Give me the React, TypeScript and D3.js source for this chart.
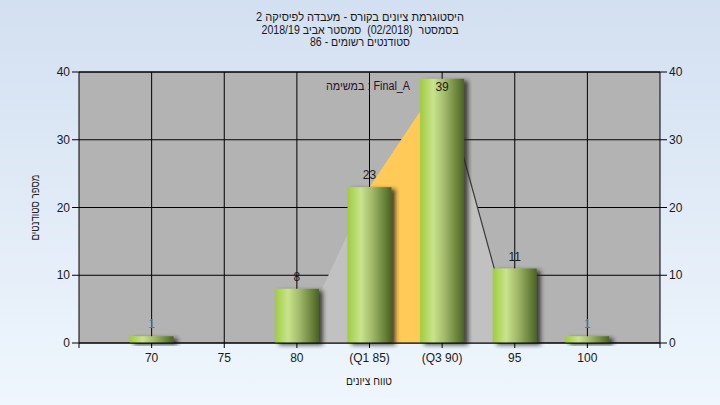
import React from "react";
import * as d3 from "d3";

const categories = [70, 75, 80, 85, 90, 95, 100];
const tickLabels = ["70", "75", "80", "(Q1 85)", "(Q3 90)", "95", "100"];
const counts = [1, 0, 8, 23, 39, 11, 1];
const overlayX = [80, 85, 90, 95];
const overlayY = [0, 23, 39, 0];
const q1 = 85;
const q3 = 90;
const yTicks = [0, 10, 20, 30, 40];
const titleLines = [
  "היסטוגרמת ציונים בקורס - מעבדה לפיסיקה 2",
  "בסמסטר  (02/2018)  סמסטר אביב 2018/19",
  "סטודנטים רשומים - 86",
];
const titleWidths = [208, 197, 100];
const xTitle = "טווח ציונים";
const yTitle = "מספר סטודנטים";
const seriesNote = "במשימה : Final_A";

const W = 720;
const H = 405;
const L = 79;
const R = 660;
const T = 72;
const B = 343;
const FONT = "'Liberation Sans', Arial, sans-serif";

export default function App() {
  const x = d3.scaleLinear().domain([65, 105]).range([L, R]);
  const y = d3.scaleLinear().domain([0, 40]).range([B, T]);
  const barW = 44;

  const areaGen = d3
    .area<[number, number]>()
    .x((d) => x(d[0]))
    .y0(y(0))
    .y1((d) => y(d[1]));
  const pts: [number, number][] = overlayX.map((v, i) => [v, overlayY[i]]);
  const yellowPts = pts.filter((p) => p[0] >= q1 && p[0] <= q3);
  const lastIdx = pts.length - 1;
  const lineGen = d3
    .line<[number, number]>()
    .x((d) => x(d[0]))
    .y((d) => y(d[1]));

  return (
    <svg
      width={W}
      height={H}
      style={{ position: "absolute", left: 0, top: 0 }}
      fontFamily={FONT}
    >
      <defs>
        <linearGradient id="bg" x1="0" y1="0" x2="0" y2="1">
          <stop offset="0" stopColor="#d3e0f1" />
          <stop offset="1" stopColor="#eff6fd" />
        </linearGradient>
        <linearGradient id="bar" x1="0" y1="0" x2="1" y2="0">
          <stop offset="0" stopColor="#9fcd3c" />
          <stop offset="0.3" stopColor="#c9e38e" />
          <stop offset="0.55" stopColor="#a3bb6a" />
          <stop offset="1" stopColor="#4a6322" />
        </linearGradient>
        <filter id="shadow" x="-20%" y="-20%" width="150%" height="150%">
          <feDropShadow dx="4" dy="2" stdDeviation="2" floodColor="#222" floodOpacity="0.8" />
        </filter>
        <clipPath id="plotClip">
          <rect x={L} y={T} width={R - L} height={B - T + 6} />
        </clipPath>
      </defs>
      <rect x={0} y={0} width={W} height={H} fill="url(#bg)" />
      <rect x={L} y={T} width={R - L} height={B - T} fill="#b3b3b3" />

      {/* gridlines */}
      {yTicks.map((t) => (
        <line key={"gy" + t} x1={L} x2={R} y1={y(t)} y2={y(t)} stroke="#000" strokeWidth={1} />
      ))}
      {categories.map((c) => (
        <line key={"gx" + c} x1={x(c)} x2={x(c)} y1={T} y2={B} stroke="#000" strokeWidth={1} />
      ))}

      {/* overlay area */}
      <path d={areaGen(pts) || ""} fill="#c1c1c1" />
      <path d={areaGen(yellowPts) || ""} fill="#ffca57" />
      <path d={lineGen(pts.slice(lastIdx - 1)) || ""} fill="none" stroke="#3a3a3a" strokeWidth={1.2} />

      {/* bars */}
      <g clipPath="url(#plotClip)">
        {categories.map((c, i) =>
          counts[i] > 0 ? (
            <rect
              key={"b" + c}
              x={x(c) - barW / 2}
              y={y(counts[i])}
              width={barW}
              height={y(0) - y(counts[i])}
              fill="url(#bar)"
              filter="url(#shadow)"
            />
          ) : null
        )}
      </g>

      {/* axes */}
      <line x1={L} x2={R} y1={B} y2={B} stroke="#000" />
      <line x1={L} x2={R} y1={T} y2={T} stroke="#000" />
      <line x1={L} x2={L} y1={T} y2={B + 5} stroke="#000" />
      <line x1={R} x2={R} y1={T} y2={B + 5} stroke="#000" />
      {yTicks.map((t) => (
        <g key={"yt" + t}>
          <line x1={L - 7} x2={L} y1={y(t)} y2={y(t)} stroke="#000" />
          <line x1={R} x2={R + 7} y1={y(t)} y2={y(t)} stroke="#000" />
          <text x={L - 9} y={y(t)} dy="0.35em" textAnchor="end" fontSize={12} fill="#1a1a1a">
            {t}
          </text>
          <text x={R + 9} y={y(t)} dy="0.35em" textAnchor="start" fontSize={12} fill="#1a1a1a">
            {t}
          </text>
        </g>
      ))}
      {categories.map((c, i) => (
        <g key={"xt" + c}>
          <line x1={x(c)} x2={x(c)} y1={B} y2={B + 5} stroke="#000" />
          <text x={x(c)} y={358} dy="0.35em" textAnchor="middle" fontSize={12} fill="#1a1a1a" direction="ltr">
            {tickLabels[i]}
          </text>
        </g>
      ))}

      {/* bar value labels */}
      {categories.map((c, i) =>
        counts[i] > 0 ? (
          <text
            key={"l" + c}
            x={x(c)}
            y={Math.max(y(counts[i]) - 12, T + 15)}
            dy="0.35em"
            textAnchor="middle"
            fontSize={12}
            fill={counts[i] === 1 ? "#4a7fa8" : "#1e1e1e"}
          >
            {counts[i]}
          </text>
        ) : null
      )}

      <text
        x={368}
        y={86}
        dy="0.35em"
        textAnchor="middle"
        fontSize={12}
        fill="#2a1028"
        textLength={84}
        lengthAdjust="spacingAndGlyphs"
        style={{ whiteSpace: "pre" }}
      >
        {seriesNote}
      </text>

      {/* titles */}
      {titleLines.map((s, i) => (
        <text
          key={"t" + i}
          x={360}
          y={17 + i * 12.5}
          dy="0.35em"
          textAnchor="middle"
          fontSize={12}
          fill="#1a1a1a"
          direction="rtl"
          textLength={titleWidths[i]}
          lengthAdjust="spacingAndGlyphs"
          style={{ whiteSpace: "pre" }}
        >
          {s}
        </text>
      ))}
      <text
        x={369}
        y={381}
        dy="0.35em"
        textAnchor="middle"
        fontSize={12}
        fill="#1a1a1a"
        textLength={46}
        lengthAdjust="spacingAndGlyphs"
      >
        {xTitle}
      </text>
      <text
        transform={`translate(35,${(T + B) / 2}) rotate(-90)`}
        dy="0.35em"
        textAnchor="middle"
        fontSize={12}
        fill="#1a1a1a"
        textLength={66}
        lengthAdjust="spacingAndGlyphs"
      >
        {yTitle}
      </text>
    </svg>
  );
}
